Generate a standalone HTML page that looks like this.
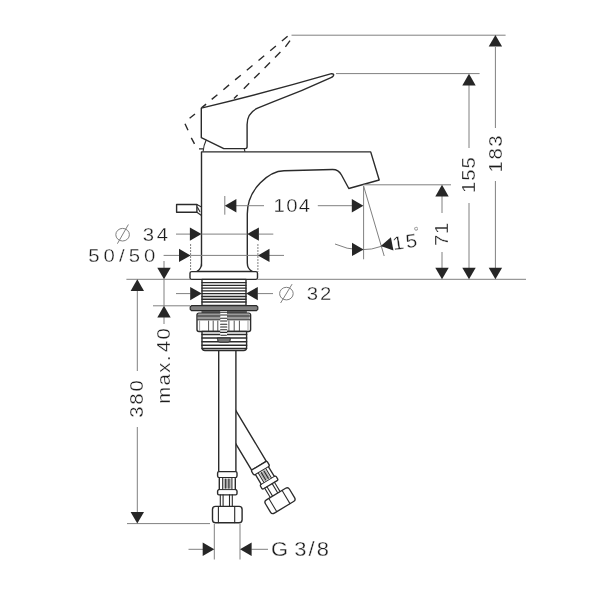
<!DOCTYPE html>
<html lang="en"><head><meta charset="utf-8"><title>Basin mixer dimensions</title>
<style>html,body{margin:0;padding:0;background:#fff}svg{display:block;filter:grayscale(1)}text{font-family:"Liberation Sans",sans-serif;fill:#1c1c1c;stroke:#fff;stroke-width:.3px}</style></head><body>
<svg width="610" height="600" viewBox="0 0 610 600">
<rect width="610" height="600" fill="#fff"/>
<g fill="none" stroke="#2b2b2b" stroke-width="1.4" stroke-linejoin="round" stroke-linecap="round">
<path d="M201.5 107.9 L206.1 104.1 M211.7 99.4 L217.4 94.7 M223.4 89.7 L229.1 84.9 M235.1 79.9 L240.8 75.2 M246.8 70.2 L252.5 65.5 M258.5 60.5 L264.2 55.7 M270.2 50.7 L275.9 46.0 M281.9 41.0 L287.6 36.2 M234.0 98.5 L237.6 94.9 M243.8 88.7 L249.2 83.3 M254.2 78.3 L259.6 72.9 M264.6 67.9 L270.0 62.5 M275.0 57.5 L280.4 52.1 M285.4 46.8 L290 40.6 M195 114 L189.6 118.3 M185 123.7 L188 130.2 M191.3 137.8 L194.5 143.8 M199 148.9 L203.2 148.9" stroke-linecap="butt"/>
<g transform="translate(227.3 413) rotate(-31)"><path d="M-8.6 0 V61.5 H8.6 V0" fill="#fff"/><g transform="translate(0 61.5) scale(0.95)"><path d="M-9.7 1.4 Q-9.7 0 -8.3 0 H8.3 Q9.7 0 9.7 1.4 V4.4 Q9.7 5.7 8 6.2 V17.7 Q9.7 18.2 9.7 19.4 V21.9 Q9.7 23.3 8.3 23.3 H-8.3 Q-9.7 23.3 -9.7 21.9 V19.4 Q-9.7 18.2 -8 17.7 V6.2 Q-9.7 5.7 -9.7 4.4 Z" fill="#fff"/><path d="M-3.6 7 H3.6 V17 H-3.6 Z" fill="#b5b5b5" stroke="none"/><path d="M-8.6 5.9 H8.6 M-8.6 18 H8.6" stroke-width="1"/><path d="M-4.6 6.5 V17.5 M-1.6 7.5 V16.5 M1.6 7.5 V16.5 M4.6 6.5 V17.5" stroke-width="1.1"/><path d="M-7 23.3 V34.8 M-4.2 23.3 V34.8 M2.2 23.3 V34.8 M5 23.3 V34.8" stroke-width="1.1"/><rect x="-14.8" y="34.8" width="29.6" height="16.3" rx="3" fill="#fff"/><path d="M-8.9 35 V51 M7.4 35 V51" stroke-width="1.1"/></g></g>
<g transform="translate(227.3 413)"><path d="M-8.6 -62 V58.6 H8.6 V-62" fill="#fff"/><g transform="translate(0 58.6) scale(1)"><path d="M-9.7 1.4 Q-9.7 0 -8.3 0 H8.3 Q9.7 0 9.7 1.4 V4.4 Q9.7 5.7 8 6.2 V17.7 Q9.7 18.2 9.7 19.4 V21.9 Q9.7 23.3 8.3 23.3 H-8.3 Q-9.7 23.3 -9.7 21.9 V19.4 Q-9.7 18.2 -8 17.7 V6.2 Q-9.7 5.7 -9.7 4.4 Z" fill="#fff"/><path d="M-3.6 7 H3.6 V17 H-3.6 Z" fill="#b5b5b5" stroke="none"/><path d="M-8.6 5.9 H8.6 M-8.6 18 H8.6" stroke-width="1"/><path d="M-4.6 6.5 V17.5 M-1.6 7.5 V16.5 M1.6 7.5 V16.5 M4.6 6.5 V17.5" stroke-width="1.1"/><path d="M-7 23.3 V34.8 M-4.2 23.3 V34.8 M2.2 23.3 V34.8 M5 23.3 V34.8" stroke-width="1.1"/><rect x="-14.8" y="34.8" width="29.6" height="16.3" rx="3" fill="#fff"/><path d="M-8.9 35 V51 M7.4 35 V51" stroke-width="1.1"/></g></g>
<path d="M201.5 266 V151.9 H370.7 L379.2 180 L348.8 188.5 L341.5 175 Q338.5 169.4 332.5 169.5 L284 170.7 C270 171 247.3 188 247.3 214 V263 Q247.3 269 252.3 271.4 H197 Q201.5 269 201.5 263 Z" fill="#fff"/>
<path d="M201.3 108.1 Q266.4 92.6 331.5 73.7 Q334.5 73.6 333.3 75.8 Q332.6 77 331 77.6 Q302 91 273 101.9 L258.8 107.6 C251 110.8 247.1 116 247.1 124.5 V146.6 Q247.1 148.6 245.4 148.6 H223.8 L201.3 137.6 Z" fill="#fff"/>
<path d="M206.1 140.3 Q203.6 145.5 203.2 151 M244.2 148.6 L244.9 151.4" stroke-width="1.1"/>
<rect x="176.6" y="204.5" width="20.3" height="7.8" fill="#fff"/>
<path d="M196.9 204.6 L201.5 206.9 M196.9 212.3 L201.5 215.5 M197.6 207.4 L199.8 211.6" stroke-width="1.1"/>
<rect x="190" y="271.6" width="67.5" height="7.8" rx="1.6" fill="#fff"/>
<rect x="202" y="279.4" width="44" height="26" fill="#fff"/>
<path d="M202 282.60 H246 M202 285.37 H246 M202 288.14 H246 M202 290.91 H246 M202 293.68 H246 M202 296.45 H246 M202 299.22 H246 M202 301.99 H246 " stroke-width="1.35"/>
<path d="M191.5 305.6 H256.5 L257.8 307 V309.3 L256.5 310.7 H191.5 L190.2 309.3 V307 Z" fill="#808080" stroke-width="1.2"/>
<path d="M202 311.9 H246.4" stroke-width="1.5"/>
<rect x="197" y="313.1" width="53.6" height="18.4" rx="2" fill="#fff"/>
<path d="M198 313.8 H249.6 V319.6 H198 Z" fill="#9a9a9a" stroke="none"/>
<path d="M197.6 316 H250 M197.6 319.8 H250" stroke-width="1"/>
<path d="M208.6 321 V331 M213.2 321 V331 M217.8 321 V331 M228.9 321 V331 M234.2 321 V331 M239.4 321 V331" stroke-width="1" stroke="#555"/>
<path d="M199.6 321 V330.5 M248 321 V330.5" stroke-width="0.8" stroke="#888"/>
<path d="M202 331.5 H246.6 V347.5 Q246.6 350.5 243.6 350.5 H205 Q202 350.5 202 347.5 Z" fill="#fff"/>
<path d="M202 334.60 H246.6 M202 338.10 H246.6 M202 341.70 H246.6 M202 345.20 H246.6 M202 348.40 H246.6 " stroke-width="1.5"/>
<path d="M220.3 311 H227 V337 H220.3 Z" fill="#fff" stroke="none"/>
<path d="M220.6 312.2 H226.8 M220.6 315 H226.8 M220.6 318.2 H226.8 M220.6 321 H226.8 M220.6 324.3 H226.8 M220.6 327 H226.8 M220.6 329.7 H226.8 M220.6 332.4 H226.8 M221 335.3 H226.4" stroke-width="1.1"/>
<path d="M217.6 338 H230.2 V340 Q230.2 342.2 228 342.2 H219.8 Q217.6 342.2 217.6 340 Z" fill="#777" stroke-width="1"/>
</g>
<g fill="none" stroke="#808080" stroke-width="1">
<line x1="291.5" y1="35.2" x2="505.6" y2="35.2"/>
<line x1="336.0" y1="73.6" x2="479.6" y2="73.6"/>
<line x1="363.5" y1="184.8" x2="451.0" y2="184.8"/>
<line x1="257.5" y1="279.3" x2="526.0" y2="279.3"/>
<line x1="495.4" y1="47.0" x2="495.4" y2="128.0"/>
<line x1="495.4" y1="181.0" x2="495.4" y2="268.0"/>
<line x1="469.0" y1="85.0" x2="469.0" y2="148.0"/>
<line x1="469.0" y1="203.0" x2="469.0" y2="268.0"/>
<line x1="442.0" y1="196.0" x2="442.0" y2="213.0"/>
<line x1="442.0" y1="252.0" x2="442.0" y2="268.0"/>
<line x1="363.6" y1="186.0" x2="363.6" y2="259.3"/>
<line x1="363.6" y1="186.0" x2="384.2" y2="256.0"/>
<line x1="224.8" y1="196.0" x2="224.8" y2="214.7"/>
<line x1="236.0" y1="205.7" x2="264.0" y2="205.7"/>
<line x1="317.8" y1="205.7" x2="352.0" y2="205.7"/>
<line x1="176.0" y1="234.1" x2="190.0" y2="234.1"/>
<line x1="201.5" y1="234.1" x2="247.3" y2="234.1"/>
<line x1="259.0" y1="234.1" x2="273.3" y2="234.1"/>
<line x1="163.6" y1="255.4" x2="179.0" y2="255.4"/>
<line x1="190.6" y1="255.4" x2="257.9" y2="255.4"/>
<line x1="269.0" y1="255.4" x2="284.0" y2="255.4"/>
<line x1="176.0" y1="293.6" x2="190.5" y2="293.6"/>
<line x1="257.5" y1="293.6" x2="273.0" y2="293.6"/>
<line x1="126.4" y1="279.3" x2="190.0" y2="279.3"/>
<line x1="153.0" y1="305.8" x2="190.0" y2="305.8"/>
<line x1="164.0" y1="261.0" x2="164.0" y2="268.0"/>
<line x1="164.0" y1="279.3" x2="164.0" y2="305.8"/>
<line x1="164.0" y1="317.0" x2="164.0" y2="324.0"/>
<line x1="137.3" y1="290.0" x2="137.3" y2="371.0"/>
<line x1="137.3" y1="427.0" x2="137.3" y2="512.4"/>
<line x1="127.0" y1="523.6" x2="210.0" y2="523.6"/>
<line x1="214.3" y1="524.0" x2="214.3" y2="559.5"/>
<line x1="240.0" y1="524.0" x2="240.0" y2="559.5"/>
<line x1="188.5" y1="549.3" x2="203.3" y2="549.3"/>
<line x1="251.3" y1="549.3" x2="268.0" y2="549.3"/>
<line x1="190.6" y1="244" x2="190.6" y2="272" stroke-dasharray="2 1"/>
<line x1="257.9" y1="244" x2="257.9" y2="272" stroke-dasharray="2 1"/>
<path d="M335 244 A64.5 64.5 0 0 0 384 245.6"/>
<ellipse cx="122.6" cy="234.7" rx="6.8" ry="6.3"/>
<line x1="117.4" y1="243.7" x2="128.4" y2="224.5"/>
<ellipse cx="286.4" cy="293.6" rx="6.8" ry="6.3"/>
<line x1="280.6" y1="303.0" x2="292.1" y2="284.1"/>
</g>
<g fill="#262626">
<polygon points="495.4,35.0 488.7,46.6 502.1,46.6"/>
<polygon points="495.4,279.3 488.7,267.7 502.1,267.7"/>
<polygon points="469.0,73.8 462.3,85.4 475.7,85.4"/>
<polygon points="469.0,279.3 462.3,267.7 475.7,267.7"/>
<polygon points="442.0,184.8 435.3,196.4 448.7,196.4"/>
<polygon points="442.0,279.3 435.3,267.7 448.7,267.7"/>
<polygon points="224.8,205.7 236.4,199.0 236.4,212.4"/>
<polygon points="363.4,205.7 351.8,199.0 351.8,212.4"/>
<polygon points="201.5,234.1 189.9,227.4 189.9,240.8"/>
<polygon points="247.3,234.1 258.9,227.4 258.9,240.8"/>
<polygon points="190.6,255.4 179.0,248.7 179.0,262.1"/>
<polygon points="257.9,255.4 269.5,248.7 269.5,262.1"/>
<polygon points="201.8,293.6 190.2,286.9 190.2,300.3"/>
<polygon points="246.2,293.6 257.8,286.9 257.8,300.3"/>
<polygon points="164.0,279.3 157.3,267.7 170.7,267.7"/>
<polygon points="164.0,305.8 157.3,317.4 170.7,317.4"/>
<polygon points="137.3,279.3 130.6,290.9 144.0,290.9"/>
<polygon points="137.3,523.6 130.6,512.0 144.0,512.0"/>
<polygon points="214.3,549.3 202.7,542.6 202.7,556.0"/>
<polygon points="240.0,549.3 251.6,542.6 251.6,556.0"/>
<polygon points="363.6,249.4 352.0,242.7 352.0,256.1"/>
<g transform="rotate(-11 380.8 246.1)"><polygon points="380.8,246.1 392.4,239.4 392.4,252.8"/></g>
</g>
<g transform="translate(273.50 212.10) rotate(0) scale(1.07 1)"><text x="0" y="0" font-size="19" textLength="34.21" lengthAdjust="spacing">104</text></g>
<g transform="translate(142.80 240.90) rotate(0) scale(1.07 1)"><text x="0" y="0" font-size="19" textLength="23.55" lengthAdjust="spacing">34</text></g>
<g transform="translate(88.20 262.20) rotate(0) scale(1.07 1)"><text x="0" y="0" font-size="19" textLength="62.80" lengthAdjust="spacing">50/50</text></g>
<g transform="translate(306.80 300.40) rotate(0) scale(1.07 1)"><text x="0" y="0" font-size="19" textLength="22.90" lengthAdjust="spacing">32</text></g>
<g transform="translate(271.00 556.20) rotate(0) scale(1.07 1)"><text x="0" y="0" font-size="20.5" word-spacing="-4" textLength="54.21" lengthAdjust="spacing">G 3/8</text></g>
<g transform="translate(501.50 172.40) rotate(-90) scale(1.07 1)"><text x="0" y="0" font-size="19" textLength="34.49" lengthAdjust="spacing">183</text></g>
<g transform="translate(474.90 193.00) rotate(-90) scale(1.07 1)"><text x="0" y="0" font-size="19" textLength="33.46" lengthAdjust="spacing">155</text></g>
<g transform="translate(447.80 246.10) rotate(-90) scale(1.07 1)"><text x="0" y="0" font-size="19" textLength="21.78" lengthAdjust="spacing">71</text></g>
<g transform="translate(143.00 417.80) rotate(-90) scale(1.07 1)"><text x="0" y="0" font-size="19" textLength="35.14" lengthAdjust="spacing">380</text></g>
<g transform="translate(170.40 403.80) rotate(-90) scale(1.07 1)"><text x="0" y="0" font-size="19" word-spacing="-5" textLength="70.65" lengthAdjust="spacing">max. 40</text></g>
<g transform="translate(393.50 250.30) rotate(-9) scale(1.07 1)"><text x="0" y="0" font-size="19" textLength="23.18" lengthAdjust="spacing">15</text></g>
<text x="414.6" y="236.3" font-size="13" transform="rotate(-9 415 236)">°</text>
</svg></body></html>
